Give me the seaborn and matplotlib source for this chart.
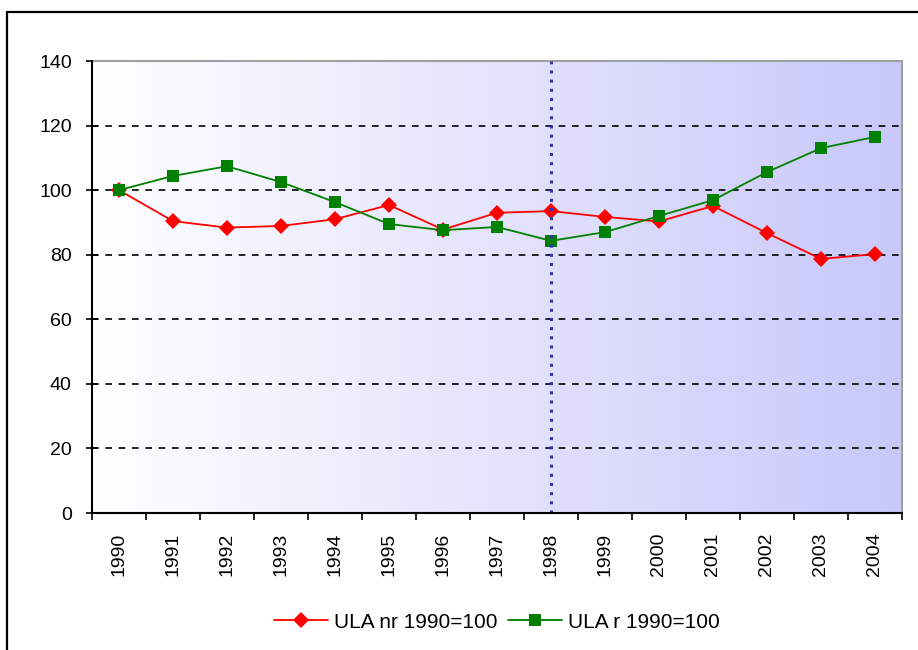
import numpy as np
import pandas as pd
import matplotlib
matplotlib.use("Agg")
import matplotlib.pyplot as plt
import seaborn as sns
from matplotlib.lines import Line2D
from matplotlib.colors import LinearSegmentedColormap

years = ["1990", "1991", "1992", "1993", "1994", "1995", "1996", "1997",
         "1998", "1999", "2000", "2001", "2002", "2003", "2004"]
ula_nr = [100.0, 90.4, 88.4, 88.9, 91.0, 95.4, 87.8, 93.0,
          93.5, 91.7, 90.3, 95.1, 86.7, 78.7, 80.2]
ula_r = [100.0, 104.4, 107.4, 102.5, 96.3, 89.5, 87.6, 88.6,
         84.3, 87.0, 92.0, 96.9, 105.6, 113.0, 116.5]
label_nr = "ULA nr 1990=100"
label_r = "ULA r 1990=100"
yticks = [0, 20, 40, 60, 80, 100, 120, 140]

sns.set_theme(style="white")
plt.rcParams['font.family'] = ['Liberation Sans', 'DejaVu Sans']

fig = plt.figure(figsize=(9.18, 6.5), dpi=100)
ax = fig.add_axes([92/918, 1-513/650, 810/918, 452/650])

pos = np.arange(len(years))
df_nr = pd.DataFrame({"x": pos, "y": ula_nr})
df_r = pd.DataFrame({"x": pos, "y": ula_r})

# gradient background
cmap = LinearSegmentedColormap.from_list("bg", ["#ffffff", "#c8c8fa"])
grad = np.linspace(0, 1, 256).reshape(1, -1)
ax.imshow(grad, cmap=cmap, aspect="auto", extent=[0, 1, 0, 1],
          transform=ax.transAxes, zorder=0)

sns.lineplot(data=df_nr, x="x", y="y", ax=ax, color="#ff0000", lw=1.3,
             marker="D", markersize=8, markeredgewidth=0, label=label_nr, zorder=3)
sns.lineplot(data=df_r, x="x", y="y", ax=ax, color="#008000", lw=1.3,
             marker="s", markersize=8, markeredgewidth=0, label=label_r, zorder=4)

ax.set_xlim(-0.5, len(years) - 0.5)
ax.set_ylim(0, 140)
ax.set_yticks(yticks)
ax.set_yticklabels([str(v) for v in yticks], fontsize=14, color="#000000")
ax.set_xticks(pos)
ax.set_xticklabels(years, rotation=90, fontsize=14, color="#000000")
ax.set_xticks(np.arange(-0.5, len(years), 1.0), minor=True)
ax.tick_params(axis="x", which="major", length=0, pad=14)
ax.tick_params(axis="x", which="minor", length=5, width=1.2, color="#000000", direction="out", bottom=True)
ax.tick_params(axis="y", which="major", length=9, width=1.2, color="#000000", direction="inout", left=True, pad=10)
ax.set_xlabel("")
ax.set_ylabel("")

for v in yticks[1:-1]:
    ax.axhline(v, color="#000000", lw=1.2, ls=(0, (4, 4)), zorder=2)

ax.axvline(8, color="#3333aa", lw=2.2, ls=(0, (1, 2)), zorder=5)

for s in ["left", "bottom"]:
    ax.spines[s].set_color("#000000")
    ax.spines[s].set_linewidth(1.5)
for s in ["top", "right"]:
    ax.spines[s].set_color("#a0a0a0")
    ax.spines[s].set_linewidth(1.5)
ax.spines["left"].set_zorder(6)
ax.spines["bottom"].set_zorder(6)

leg = ax.legend(loc="center", bbox_to_anchor=(497/918, 1-622/650), bbox_transform=fig.transFigure,
                ncol=2, frameon=False, fontsize=15, handlelength=2.6, columnspacing=0.5,
                handletextpad=0.3)
for t in leg.get_texts():
    t.set_color("#000000")

# outer chart frame
fig.add_artist(Line2D([7/918, 7/918], [0, 1-12/650], transform=fig.transFigure, color="#000000", lw=1.6))
fig.add_artist(Line2D([7/918, 1], [1-12/650, 1-12/650], transform=fig.transFigure, color="#000000", lw=1.6))

fig.savefig("out.png", dpi=100)
